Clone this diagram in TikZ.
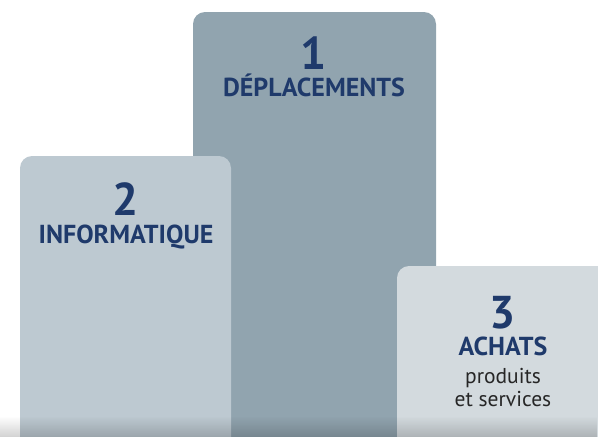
\documentclass[tikz,border=0pt]{standalone}
\usepackage{fontspec}
\setmainfont{PT Sans}
\usetikzlibrary{positioning, fadings}
\definecolor{barone}{HTML}{91A4AF}
\definecolor{bartwo}{HTML}{BDC9D1}
\definecolor{barthree}{HTML}{D3DADE}
\definecolor{navy}{HTML}{1F3A6B}
\tikzset{
    bar/.style={rounded corners=12pt},
    rank/.style={anchor=base, text=navy, font=\bfseries\fontsize{46}{46}\selectfont, inner sep=0pt, text height=0.7em, text depth=0pt},
    title/.style={anchor=base, text=navy, font=\bfseries\fontsize{26}{26}\selectfont, inner sep=0pt, text height=0.7em, text depth=0.1em},
    sub/.style={anchor=base, text=black!85, font=\fontsize{21.5}{21.5}\selectfont, inner sep=0pt, text height=0.7em, text depth=0.2em}
}

\begin{document}
\begin{tikzpicture}[x=1pt, y=-1pt]
            \useasboundingbox (0,0) rectangle (598,437);
            \clip (0,0) rectangle (598,437);

            \fill [bar, barone] (193,480) rectangle (436,12);
            \fill [bar, bartwo] (20,480) rectangle (231,156);
            \fill [bar, barthree] (397,480) rectangle (640,266);

            \node [rank] (one) at (314,69) {1};
            \node [title] (deplacements) at (314,96) {DÉPLACEMENTS};
            \node [rank] (two) at (126,215) {2};
            \node [title] (informatique) at (126,243) {INFORMATIQUE};
            \node [rank] (three) at (503,328) {3};
            \node [title] (achats) at (503,355) {ACHATS};
            \node [sub] (produits) at (503,383) {produits};
            \node [sub] (services) at (503,406) {et services};

            \fill [black, opacity=0.18, path fading=north] (0,416) rectangle (598,437);
        \end{tikzpicture}
\end{document}
